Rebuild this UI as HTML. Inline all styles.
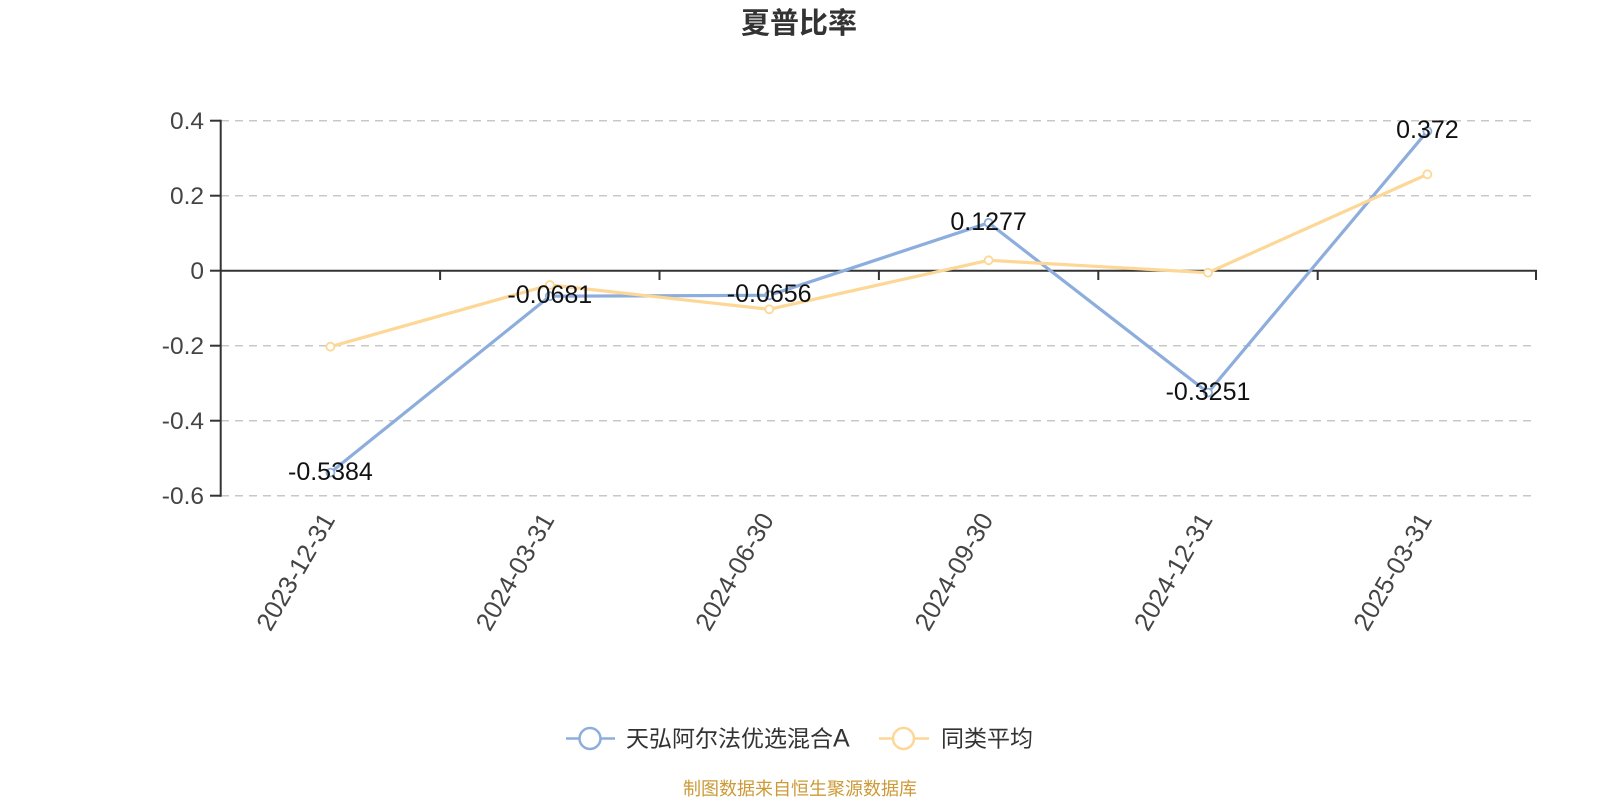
<!DOCTYPE html>
<html>
<head>
<meta charset="utf-8">
<style>
html,body{margin:0;padding:0;background:#fff;}
svg{display:block;}
text{font-family:"Liberation Sans","Noto Sans CJK SC",sans-serif;}
</style>
</head>
<body>
<svg width="1600" height="800" viewBox="0 0 1600 800" xmlns="http://www.w3.org/2000/svg">
  <rect width="1600" height="800" fill="#fff"/>
  <!-- title -->
  <text x="799" y="33" text-anchor="middle" font-size="29" font-weight="bold" fill="#333">夏普比率</text>

  <!-- grid lines -->
  <g stroke="#c8c8c8" stroke-width="1.5" stroke-dasharray="8,6">
    <line x1="221" y1="120.7" x2="1537" y2="120.7"/>
    <line x1="221" y1="195.7" x2="1537" y2="195.7"/>
    <line x1="221" y1="345.7" x2="1537" y2="345.7"/>
    <line x1="221" y1="420.7" x2="1537" y2="420.7"/>
    <line x1="221" y1="495.7" x2="1537" y2="495.7"/>
  </g>

  <!-- axes -->
  <g stroke="#333" stroke-width="2">
    <line x1="220.7" y1="119.7" x2="220.7" y2="496.7"/>
    <line x1="210" y1="120.7" x2="220.7" y2="120.7"/>
    <line x1="210" y1="195.7" x2="220.7" y2="195.7"/>
    <line x1="210" y1="270.7" x2="220.7" y2="270.7"/>
    <line x1="210" y1="345.7" x2="220.7" y2="345.7"/>
    <line x1="210" y1="420.7" x2="220.7" y2="420.7"/>
    <line x1="210" y1="495.7" x2="220.7" y2="495.7"/>
    <line x1="220.7" y1="270.7" x2="1537" y2="270.7"/>
    <line x1="440.1" y1="270.7" x2="440.1" y2="280"/>
    <line x1="659.5" y1="270.7" x2="659.5" y2="280"/>
    <line x1="878.9" y1="270.7" x2="878.9" y2="280"/>
    <line x1="1098.3" y1="270.7" x2="1098.3" y2="280"/>
    <line x1="1317.7" y1="270.7" x2="1317.7" y2="280"/>
    <line x1="1536" y1="270.7" x2="1536" y2="280"/>
  </g>

  <!-- y labels -->
  <g font-size="24.5" fill="#444" text-anchor="end">
    <text x="204" y="129">0.4</text>
    <text x="204" y="204">0.2</text>
    <text x="204" y="279">0</text>
    <text x="204" y="354">-0.2</text>
    <text x="204" y="429">-0.4</text>
    <text x="204" y="504">-0.6</text>
  </g>

  <!-- x labels -->
  <g font-size="25.5" fill="#444" text-anchor="end">
    <text transform="translate(328,515) rotate(-60)" dy="0.35em">2023-12-31</text>
    <text transform="translate(547.4,515) rotate(-60)" dy="0.35em">2024-03-31</text>
    <text transform="translate(766.8,515) rotate(-60)" dy="0.35em">2024-06-30</text>
    <text transform="translate(986.2,515) rotate(-60)" dy="0.35em">2024-09-30</text>
    <text transform="translate(1205.6,515) rotate(-60)" dy="0.35em">2024-12-31</text>
    <text transform="translate(1425,515) rotate(-60)" dy="0.35em">2025-03-31</text>
  </g>

  <!-- blue series -->
  <polyline fill="none" stroke="#8daedc" stroke-width="3.2" stroke-linejoin="round"
    points="330.4,472.6 549.8,296.2 769.2,295.3 988.6,222.8 1208,392.6 1427.4,131.2"/>
  <g fill="#fff" stroke="#8daedc" stroke-width="1.8">
    <circle cx="330.4" cy="472.6" r="4"/>
    <circle cx="549.8" cy="296.2" r="4"/>
    <circle cx="769.2" cy="295.3" r="4"/>
    <circle cx="988.6" cy="222.8" r="4"/>
    <circle cx="1208" cy="392.6" r="4"/>
    <circle cx="1427.4" cy="131.2" r="4"/>
  </g>

  <!-- yellow series -->
  <polyline fill="none" stroke="#fdd796" stroke-width="3.2" stroke-linejoin="round"
    points="330.4,346.7 549.8,285 769.2,309.3 988.6,260.3 1208,272.7 1427.4,174.3"/>
  <g fill="#fff" stroke="#fdd796" stroke-width="1.8">
    <circle cx="330.4" cy="346.7" r="4"/>
    <circle cx="549.8" cy="285" r="4"/>
    <circle cx="769.2" cy="309.3" r="4"/>
    <circle cx="988.6" cy="260.3" r="4"/>
    <circle cx="1208" cy="272.7" r="4"/>
    <circle cx="1427.4" cy="174.3" r="4"/>
  </g>

  <!-- data labels -->
  <g font-size="25" fill="#111" text-anchor="middle">
    <text x="330.4" y="480">-0.5384</text>
    <text x="549.8" y="303">-0.0681</text>
    <text x="769.2" y="302">-0.0656</text>
    <text x="988.6" y="230">0.1277</text>
    <text x="1208" y="400">-0.3251</text>
    <text x="1427.4" y="138">0.372</text>
  </g>

  <!-- legend -->
  <line x1="566" y1="738.5" x2="615" y2="738.5" stroke="#8daedc" stroke-width="2.5"/>
  <circle cx="590" cy="738.5" r="10.5" fill="#fff" stroke="#8daedc" stroke-width="2.5"/>
  <text x="626" y="746.5" font-size="23" fill="#333">天弘阿尔法优选混合<tspan font-size="25">A</tspan></text>
  <line x1="879" y1="738.5" x2="929" y2="738.5" stroke="#fdd796" stroke-width="2.5"/>
  <circle cx="903.5" cy="738.5" r="10.5" fill="#fff" stroke="#fdd796" stroke-width="2.5"/>
  <text x="941" y="746.5" font-size="23" fill="#333">同类平均</text>

  <!-- source -->
  <text x="800" y="795" text-anchor="middle" font-size="18" fill="#cc9a36">制图数据来自恒生聚源数据库</text>
</svg>
</body>
</html>
